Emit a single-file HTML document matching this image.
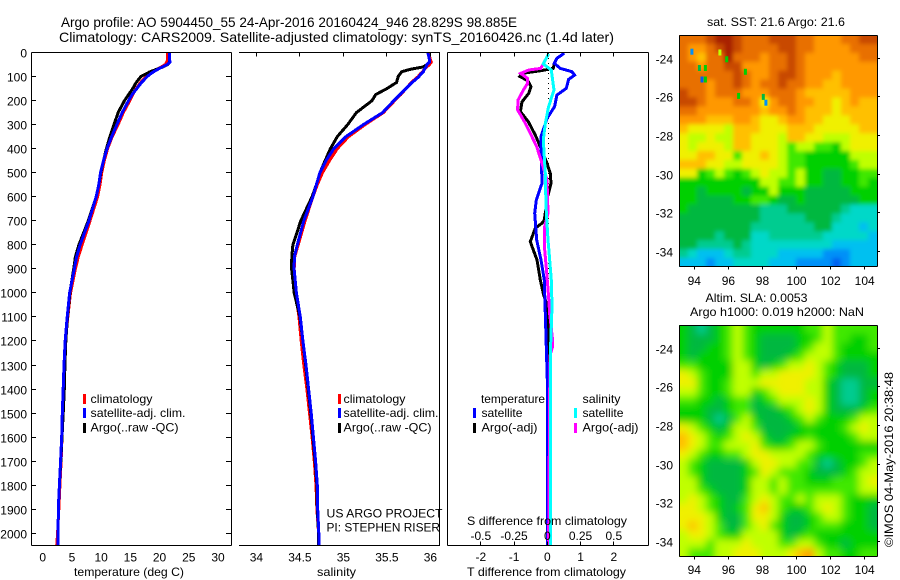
<!DOCTYPE html>
<html lang="en">
<head>
<meta charset="utf-8">
<title>Argo profile 5904450_55</title>
<style>
html,body{margin:0;padding:0;background:#fff;}
svg{display:block;}
text{font-family:"Liberation Sans",sans-serif;fill:#000;font-size:12px;}
.t{font-size:14px;}
</style>
</head>
<body>
<svg id="chart" xmlns="http://www.w3.org/2000/svg" width="900" height="580" viewBox="0 0 900 580">
<defs>
<filter id="blurA" x="-10%" y="-10%" width="120%" height="120%"><feGaussianBlur stdDeviation="4"/></filter>
<filter id="blurB" x="-10%" y="-10%" width="120%" height="120%"><feGaussianBlur stdDeviation="2"/></filter>
<clipPath id="clipSst"><rect x="679" y="35" width="198" height="232"/></clipPath>
<clipPath id="clipSla"><rect x="679" y="325" width="198" height="232"/></clipPath>
</defs>
<rect width="900" height="580" fill="#fff"/>
<text class="t" x="61" y="27" textLength="456" lengthAdjust="spacingAndGlyphs">Argo profile: AO 5904450_55 24-Apr-2016 20160424_946 28.829S 98.885E</text>
<text class="t" x="59" y="42" textLength="555" lengthAdjust="spacingAndGlyphs">Climatology: CARS2009. Satellite-adjusted climatology: synTS_20160426.nc (1.4d later)</text>

<g id="heatSst" clip-path="url(#clipSst)"></g>
<g id="heatSla" clip-path="url(#clipSla)"></g>
<g id="marks"></g>
<g id="axes"></g>

<text x="74" y="576" textLength="110" lengthAdjust="spacingAndGlyphs">temperature (deg C)</text>
<text x="317" y="576" textLength="39" lengthAdjust="spacingAndGlyphs">salinity</text>
<text x="467" y="576" textLength="159" lengthAdjust="spacingAndGlyphs">T difference from climatology</text>
<text x="467" y="525" textLength="160" lengthAdjust="spacingAndGlyphs">S difference from climatology</text>

<g>
<rect x="83" y="394" width="3" height="10" fill="#f00"/>
<rect x="83" y="408" width="3" height="10" fill="#00f"/>
<rect x="83" y="423" width="3" height="10" fill="#000"/>
<text x="90.5" y="403" textLength="62" lengthAdjust="spacingAndGlyphs">climatology</text>
<text x="90.5" y="417" textLength="95" lengthAdjust="spacingAndGlyphs">satellite-adj. clim.</text>
<text x="90.5" y="431.5" textLength="88" lengthAdjust="spacingAndGlyphs">Argo(..raw -QC)</text>
</g>
<g>
<rect x="338" y="394" width="3" height="10" fill="#f00"/>
<rect x="338" y="408" width="3" height="10" fill="#00f"/>
<rect x="338" y="423" width="3" height="10" fill="#000"/>
<text x="343.5" y="403" textLength="62" lengthAdjust="spacingAndGlyphs">climatology</text>
<text x="343.5" y="417" textLength="95" lengthAdjust="spacingAndGlyphs">satellite-adj. clim.</text>
<text x="343.5" y="431.5" textLength="88" lengthAdjust="spacingAndGlyphs">Argo(..raw -QC)</text>
</g>
<g>
<text x="481" y="403" textLength="64" lengthAdjust="spacingAndGlyphs">temperature</text>
<text x="582.5" y="403" textLength="38" lengthAdjust="spacingAndGlyphs">salinity</text>
<rect x="473" y="408" width="3" height="10" fill="#00f"/>
<rect x="473" y="423" width="3" height="10" fill="#000"/>
<rect x="574" y="408" width="3" height="10" fill="#0ff"/>
<rect x="574" y="423" width="3" height="10" fill="#f0f"/>
<text x="481.5" y="417" textLength="41" lengthAdjust="spacingAndGlyphs">satellite</text>
<text x="481.5" y="431.5" textLength="56" lengthAdjust="spacingAndGlyphs">Argo(-adj)</text>
<text x="582.5" y="417" textLength="41" lengthAdjust="spacingAndGlyphs">satellite</text>
<text x="582.5" y="431.5" textLength="56" lengthAdjust="spacingAndGlyphs">Argo(-adj)</text>
</g>

<text x="326.5" y="517.5" textLength="116" lengthAdjust="spacingAndGlyphs">US ARGO PROJECT</text>
<text x="326.5" y="531.5" textLength="113.5" lengthAdjust="spacingAndGlyphs">PI: STEPHEN RISER</text>

<text x="707" y="26" textLength="138" lengthAdjust="spacingAndGlyphs">sat. SST: 21.6 Argo: 21.6</text>
<text x="705.5" y="302" textLength="102" lengthAdjust="spacingAndGlyphs">Altim. SLA: 0.0053</text>
<text x="690" y="316" textLength="174" lengthAdjust="spacingAndGlyphs">Argo h1000: 0.019 h2000: NaN</text>
<text transform="translate(893,547) rotate(-90)" textLength="175" lengthAdjust="spacingAndGlyphs">©IMOS 04-May-2016 20:38:48</text>
</svg>

<script>
// ---- profile data: temperature and salinity on a shared depth grid
const profileDepths = [0,30,40,50,60,70,80,90,100,125,150,175,200,250,300,350,400,450,500,550,600,700,800,850,900,1000,1100,1200,1300,1400,1500,1600,1700,1800,1900,2000,2050];
const tempClim = [21.4,21.4,21.2,21.0,20.3,19.6,19.0,18.4,17.7,16.75,16.0,15.4,14.9,13.8,12.9,11.9,11.1,10.55,10.1,9.8,9.4,8.1,6.75,6.1,5.6,4.75,4.3,3.9,3.75,3.55,3.45,3.3,3.15,2.95,2.75,2.55,2.4];
const tempSat = [21.7,21.7,21.8,21.3,20.5,19.7,19.0,18.4,17.9,16.9,16.1,15.3,14.7,13.6,12.7,11.8,11.0,10.4,9.9,9.6,9.15,7.9,6.4,5.8,5.4,4.6,4.2,3.85,3.65,3.5,3.35,3.25,3.07,2.85,2.67,2.65,2.6];
const tempArgo = [21.7,21.7,21.7,21.4,20.6,19.5,18.4,17.6,16.8,16.0,15.4,14.7,14.0,12.9,12.2,11.5,10.9,10.4,9.95,9.6,9.15,7.8,6.2,5.6,5.3,4.65,4.25,3.95,3.8,3.7,3.5,3.3,3.1,2.85,2.67,2.65,2.6];
const salClim = [35.98,36.0,36.01,35.99,35.96,35.93,35.91,35.88,35.86,35.78,35.72,35.66,35.59,35.46,35.25,35.06,34.93,34.84,34.76,34.70,34.65,34.56,34.48,34.44,34.435,34.45,34.49,34.515,34.545,34.58,34.61,34.64,34.665,34.685,34.695,34.715,34.715];
const salSat = [35.97,35.99,35.99,35.96,35.95,35.93,35.92,35.89,35.87,35.79,35.72,35.65,35.58,35.45,35.23,35.03,34.89,34.80,34.73,34.69,34.65,34.545,34.47,34.437,34.433,34.46,34.505,34.535,34.57,34.60,34.63,34.655,34.68,34.70,34.705,34.717,34.717];
const salArgo = [35.97,35.99,35.99,35.96,35.92,35.77,35.67,35.65,35.63,35.61,35.50,35.37,35.33,35.15,35.05,34.93,34.85,34.79,34.73,34.69,34.64,34.51,34.42,34.407,34.405,34.435,34.50,34.535,34.565,34.595,34.625,34.65,34.675,34.695,34.70,34.715,34.715];

// ---- difference-from-climatology profiles
const dtSatDepths = [3,24,45,66,80,94,112,149,177,225,274,350,433,544,614,669,780,863,946,1085,1224,1362,2050];
const dtSatValues = [0.51,0.29,0.21,0.39,0.74,0.82,0.64,0.57,0.29,0.22,-0.01,-0.19,-0.18,-0.16,-0.33,-0.38,-0.32,-0.19,-0.09,-0.06,-0.03,0,0];
const dtArgoDepths = [3,24,45,66,76,87,100,117,142,170,205,246,288,343,392,461,503,544,600,697,710,731,787,863,946,1008,1057,1154,2050];
const dtArgoValues = [0.51,0.29,0.21,0.18,-0.21,-0.76,-0.83,-0.59,-0.49,-0.56,-0.76,-0.81,-0.57,-0.36,-0.21,-0.01,0.09,0.11,0.01,-0.09,-0.16,-0.36,-0.51,-0.31,-0.21,-0.11,0.01,0.04,0.04];
const dsSatDepths = [6,31,48,73,114,156,225,295,364,503,641,780,808,946,1057,1224,2050];
const dsSatValues = [0.01,-0.015,-0.03,0.03,0.04,0.05,0.01,-0.015,-0.03,-0.015,-0.01,0.005,0.01,0.03,0.035,0.025,0.025];
const dsArgoDepths = [6,31,48,66,73,87,107,128,156,198,239,281,336,392,461,530,669,725,808,891,1016,1085,1196,1224,1260,2050];
const dsArgoValues = [0.01,-0.015,-0.03,-0.05,-0.14,-0.2,-0.15,-0.148,-0.18,-0.22,-0.223,-0.178,-0.128,-0.08,-0.04,-0.002,0.005,-0.02,-0.022,-0.008,0.01,0.017,0.04,0.04,0.02,0.01];

// ---- tick labels
const depthTicks = [0,100,200,300,400,500,600,700,800,900,1000,1100,1200,1300,1400,1500,1600,1700,1800,1900,2000];
const tempTicks = [0,5,10,15,20,25,30];
const salTicks = [34,34.5,35,35.5,36];
const dtTicks = [-2,-1,0,1,2];
const dsTicks = [-0.5,-0.25,0,0.25,0.5];
const lonTicks = [94,96,98,100,102,104];
const latTicks = [-24,-26,-28,-30,-32,-34];

// ---- satellite SST map, colour-level per cell (north to south, west to east)
const sstLevels = [
[12,12,12,13,14,14,13,12,12,12,13,13,13,12,12,11,11,11,12,12,13,13],
[12,11,11,12,13,14,13,12,12,12,12,13,13,12,12,11,11,11,11,12,12,12],
[12,11,10,12,12,14,12,12,12,11,12,12,13,12,11,11,11,11,11,11,12,12],
[12,12,11,12,12,13,13,11,11,11,12,12,13,12,11,11,11,11,11,11,11,11],
[12,12,12,12,12,12,13,12,11,11,12,13,13,12,11,11,11,10,11,11,11,11],
[12,12,12,11,12,12,13,12,11,12,12,13,12,12,11,11,10,10,11,11,11,11],
[13,12,12,11,12,12,12,11,11,11,12,12,12,11,10,10,10,10,10,11,11,11],
[13,13,12,11,11,11,12,12,11,9,11,12,12,11,11,10,10,9,10,11,10,10],
[12,12,11,11,11,11,11,11,11,10,11,11,12,11,10,10,10,9,10,10,10,10],
[11,11,11,10,10,10,11,11,10,9,9,10,11,11,10,10,9,9,9,10,10,10],
[10,9,9,9,9,8,10,10,10,9,9,9,10,10,10,9,9,9,9,9,10,10],
[9,8,8,9,8,8,10,10,9,9,9,8,10,10,9,9,8,8,8,9,9,9],
[9,8,9,9,9,8,10,10,9,9,9,8,7,8,8,7,7,6,8,9,9,9],
[9,9,10,10,9,9,7,9,9,10,9,8,7,7,6,6,6,6,6,8,8,8],
[10,10,10,9,9,8,8,9,9,9,9,8,7,7,6,6,6,6,6,7,8,8],
[9,9,6,7,8,7,6,7,8,9,8,8,7,8,6,6,5,5,6,6,7,7],
[6,6,6,6,6,6,6,6,6,8,8,7,7,8,6,6,5,5,6,6,7,6],
[6,6,5,6,6,6,6,5,6,6,8,6,6,6,5,5,5,5,5,6,6,6],
[6,6,5,5,5,5,6,6,7,7,6,5,5,6,5,5,5,5,5,5,6,6],
[6,5,5,5,5,5,5,5,5,4,4,4,5,5,5,5,5,5,4,3,3,3],
[5,5,5,5,5,5,5,5,5,4,4,4,4,4,5,5,5,4,3,3,3,3],
[5,5,5,5,5,5,5,5,4,4,4,4,4,4,4,5,5,3,3,3,2,3],
[5,5,5,5,4,5,5,5,3,3,4,4,4,4,4,4,3,3,3,3,3,2],
[5,5,4,4,4,4,5,4,3,3,3,3,3,3,3,3,3,2,2,2,2,2],
[4,3,2,2,2,3,4,4,3,3,3,2,2,2,2,2,1,1,1,2,2,2],
[2,2,2,1,2,2,3,3,3,3,2,2,2,1,1,1,1,0,1,2,2,2]
];
// isolated anomalous pixels in the SST map
const speckleLons = [93.86,94.45,94.3,94.65,94.65,95.5,95.9,97,96.6,98.05,98.2];
const speckleLats = [-23.66,-25.1,-24.5,-24.5,-25.1,-23.7,-24.05,-24.7,-25.95,-26,-26.3];
const speckleLevels = [1,0,5,6,6,8,6,6,6,5,1];

// ---- altimetric SLA map
const slaLevels = [
[6,5,4,5,6,7,8,7,6,6,6,6,6,6,7,7,8,7,7,7,7,7],
[6,5,5,5,6,7,8,7,6,5,5,5,5,6,6,7,8,7,7,6,6,7],
[6,5,5,6,6,7,8,7,6,5,5,5,5,6,7,8,8,7,6,6,6,7],
[6,5,6,6,6,7,8,7,6,5,5,5,6,7,8,8,8,7,6,6,6,6],
[7,7,6,6,6,6,8,8,6,5,6,7,8,8,9,8,7,6,5,5,5,6],
[9,8,7,6,6,6,8,8,7,8,8,9,9,9,9,8,7,6,5,5,5,6],
[9,9,7,6,6,7,8,8,8,9,9,9,9,9,8,8,6,5,4,4,5,5],
[8,8,7,6,6,7,8,8,6,7,8,9,9,9,8,8,6,5,4,4,5,6],
[7,7,6,6,5,6,7,7,5,6,7,8,8,8,9,8,6,5,4,4,5,6],
[6,6,6,5,5,6,7,7,5,5,5,6,7,8,9,8,6,5,5,5,6,7],
[6,6,6,5,4,5,7,8,6,5,5,5,6,7,8,7,6,6,6,7,8,8],
[9,8,7,6,5,6,8,8,7,5,5,5,5,6,6,6,6,6,7,8,9,8],
[10,9,8,7,6,7,8,9,8,6,5,5,6,6,7,6,6,6,6,7,8,8],
[10,9,8,7,7,8,8,8,9,7,6,6,7,8,8,7,6,6,6,6,6,6],
[9,8,7,6,6,7,7,8,9,9,8,8,8,8,7,6,6,6,6,6,7,7],
[8,7,6,5,5,5,5,6,8,9,9,8,8,7,7,5,4,5,6,6,7,8],
[8,7,6,5,5,5,5,6,7,9,8,7,7,7,6,5,5,5,6,7,8,8],
[8,8,6,5,5,5,5,6,8,8,7,8,7,7,6,6,6,7,7,7,8,9],
[8,8,7,6,5,5,5,6,8,8,7,8,7,7,7,7,7,7,7,7,8,8],
[8,9,8,7,6,5,5,7,8,9,8,7,7,8,7,8,8,8,7,6,6,6],
[9,9,8,7,6,5,6,7,9,10,8,7,6,6,7,8,9,8,7,6,6,5],
[9,9,9,8,6,5,5,7,9,9,8,6,5,5,6,7,8,8,7,6,6,5],
[9,10,9,8,7,5,5,7,8,9,7,6,5,5,6,7,7,7,6,6,6,5],
[8,9,9,8,7,6,6,8,8,8,8,6,5,6,7,6,6,6,6,6,6,6],
[8,8,8,7,8,8,8,9,8,8,8,7,7,8,8,7,6,6,5,6,6,6],
[8,7,7,7,8,8,9,9,9,8,8,8,9,10,11,8,7,7,6,6,7,7]
];

// ---- scales and helpers
const heatColors = ['#0060f0','#0090f8','#00c0f0','#00d8c8','#00cc90','#00b840','#00d000','#40e800','#c0ff00','#f0f000','#ffc000','#ff9800','#e87000','#c84800','#a82000'];
const NS = 'http://www.w3.org/2000/svg';
function linear(d0, d1, r0, r1) { return function (v) { return r0 + (v - d0) * (r1 - r0) / (d1 - d0); }; }
const yDepth = linear(0, 2000, 52.5, 533.3);
const xTemp = linear(0, 30, 42.7, 218);
const xSal = linear(34, 36, 256.4, 430.4);
const xDt = linear(-2, 2, 480.8, 613.8);
const xDs = linear(-0.5, 0.5, 480.8, 613.8);
const xLon = linear(94, 104, 694.3, 864.7);
const yLatSst = linear(-24, -34, 58.3, 251.3);
const yLatSla = linear(-24, -34, 348.3, 541.3);
const marks = document.getElementById('marks');
const axes = document.getElementById('axes');
function snap(v) { return Math.round(v - 0.5) + 0.5; }
function seg(x1, y1, x2, y2, name) {
  const el = document.createElementNS(NS, 'line');
  el.setAttribute('x1', x1); el.setAttribute('y1', y1);
  el.setAttribute('x2', x2); el.setAttribute('y2', y2);
  el.setAttribute('stroke', '#000');
  el.setAttribute('stroke-width', 1);
  el.setAttribute('shape-rendering', 'crispEdges');
  
  
  axes.appendChild(el);
  return el;
}
function label(x, y, str, anchor, name) {
  const el = document.createElementNS(NS, 'text');
  el.setAttribute('x', x); el.setAttribute('y', y);
  el.setAttribute('text-anchor', anchor);
  el.textContent = str;
  
  
  axes.appendChild(el);
}
function curve(depths, values, xs, color, name) {
  const el = document.createElementNS(NS, 'polyline');
  el.setAttribute('points', depths.map(function (d, i) { return xs(values[i]).toFixed(1) + ',' + yDepth(d).toFixed(1); }).join(' '));
  el.setAttribute('fill', 'none');
  el.setAttribute('stroke', color);
  el.setAttribute('stroke-width', 3);
  el.setAttribute('shape-rendering', 'crispEdges');
  
  
  marks.appendChild(el);
}

// ---- profile curves
curve(profileDepths, tempClim, xTemp, '#f00', 'temperature-climatology-line');
curve(profileDepths, tempArgo, xTemp, '#000', 'temperature-argo-line');
curve(profileDepths, tempSat, xTemp, '#00f', 'temperature-satellite-line');
curve(profileDepths, salClim, xSal, '#f00', 'salinity-climatology-line');
curve(profileDepths, salArgo, xSal, '#000', 'salinity-argo-line');
curve(profileDepths, salSat, xSal, '#00f', 'salinity-satellite-line');
curve(dtArgoDepths, dtArgoValues, xDt, '#000', 't-difference-argo-line');
curve(dtSatDepths, dtSatValues, xDt, '#00f', 't-difference-satellite-line');
curve(dsArgoDepths, dsArgoValues, xDs, '#f0f', 's-difference-argo-line');
curve(dsSatDepths, dsSatValues, xDs, '#0ff', 's-difference-satellite-line');

// ---- zero reference line in the difference panel
const zeroLine = seg(548.5, 53, 548.5, 546, 'zero-reference-line');
zeroLine.setAttribute('stroke-dasharray', '1 4');
marks.insertBefore(zeroLine, marks.firstChild);

// ---- panel frames
const TOP = 52.5, BOT = 545.5;
seg(31.5, TOP, 231.5, TOP, 'temperature-panel-top');
seg(31.5, BOT, 231.5, BOT, 'temperature-panel-bottom');
seg(31.5, TOP, 31.5, BOT, 'temperature-panel-left');
seg(231.5, TOP, 231.5, BOT, 'temperature-panel-right');
seg(239, TOP, 440, TOP, 'salinity-panel-top');
seg(239, BOT, 440, BOT, 'salinity-panel-bottom');
seg(439.5, TOP, 439.5, BOT, 'salinity-panel-right');
seg(447.5, TOP, 648.5, TOP, 'difference-panel-top');
seg(447.5, BOT, 648.5, BOT, 'difference-panel-bottom');
seg(447.5, TOP, 447.5, BOT, 'difference-panel-left');
seg(648.5, TOP, 648.5, BOT, 'difference-panel-right');

// ---- depth axis
depthTicks.forEach(function (d) {
  const y = snap(yDepth(d));
  seg(32, y, 36, y, 'depth-tick-left');
  seg(226, y, 231, y, 'depth-tick-right');
  label(27, y + 5, String(d), 'end', 'depth-tick-label');
});
// ---- x axes
tempTicks.forEach(function (v) {
  label(xTemp(v), 561.5, String(v), 'middle', 'temperature-tick-label');
});
salTicks.forEach(function (v) {
  const x = snap(xSal(v));
  seg(x, TOP, x, TOP + 4, 'salinity-tick');
  label(xSal(v), 561.5, String(v), 'middle', 'salinity-tick-label');
});
dtTicks.forEach(function (v) {
  const x = snap(xDt(v));
  seg(x, TOP, x, TOP + 4, 't-difference-tick-top');
  seg(x, BOT - 4, x, BOT, 't-difference-tick-bottom');
  label(xDt(v), 561, String(v), 'middle', 't-difference-tick-label');
});
dsTicks.forEach(function (v) {
  label(xDs(v), 540, String(v), 'middle', 's-difference-tick-label');
});

// ---- heat maps
function heat(levels, groupId, filterId, left, top, width, height, cellName) {
  const outer = document.getElementById(groupId);
  const g = document.createElementNS(NS, 'g');
  g.setAttribute('filter', 'url(#' + filterId + ')');
  outer.appendChild(g);
  const rows = levels.length, cols = levels[0].length;
  const cw = width / cols, ch = height / rows;
  levels.forEach(function (row, r) {
    row.forEach(function (lv, c) {
      const el = document.createElementNS(NS, 'rect');
      const pad = 14;
      const x0 = left + c * cw - (c === 0 ? pad : 0);
      const y0 = top + r * ch - (r === 0 ? pad : 0);
      const x1 = left + (c + 1) * cw + (c === cols - 1 ? pad : 0.5);
      const y1 = top + (r + 1) * ch + (r === rows - 1 ? pad : 0.5);
      el.setAttribute('x', x0.toFixed(2));
      el.setAttribute('y', y0.toFixed(2));
      el.setAttribute('width', (x1 - x0).toFixed(2));
      el.setAttribute('height', (y1 - y0).toFixed(2));
      el.setAttribute('fill', heatColors[lv]);
      
      
      g.appendChild(el);
    });
  });
  return outer;
}
const sstGroup = heat(sstLevels, 'heatSst', 'blurB', 679, 35, 198, 232, 'sst-cell');
heat(slaLevels, 'heatSla', 'blurA', 679, 325, 198, 232, 'sla-cell');
speckleLons.forEach(function (lon, i) {
  const el = document.createElementNS(NS, 'rect');
  el.setAttribute('x', (xLon(lon) - 1.5).toFixed(1));
  el.setAttribute('y', (yLatSst(speckleLats[i]) - 3).toFixed(1));
  el.setAttribute('width', 3);
  el.setAttribute('height', 6);
  el.setAttribute('fill', heatColors[speckleLevels[i]]);
  
  
  sstGroup.appendChild(el);
});

// ---- map frames and ticks
function mapFrame(yLat, top, bottom, lonBase, prefix) {
  seg(679.5, top, 877.5, top, prefix + '-frame-top');
  seg(679.5, bottom, 877.5, bottom, prefix + '-frame-bottom');
  seg(679.5, top, 679.5, bottom, prefix + '-frame-left');
  seg(877.5, top, 877.5, bottom, prefix + '-frame-right');
  lonTicks.forEach(function (lon) {
    const x = snap(xLon(lon));
    seg(x, bottom, x, bottom + 3, prefix + '-lon-tick');
    label(xLon(lon), lonBase, String(lon), 'middle', prefix + '-lon-label');
  });
  latTicks.forEach(function (lat) {
    const y = snap(yLat(lat));
    seg(877, y, 880, y, prefix + '-lat-tick');
    label(673, y + 5, String(lat), 'end', prefix + '-lat-label');
  });
}
mapFrame(yLatSst, 35.5, 266.5, 285, 'sst-map');
mapFrame(yLatSla, 325.5, 556.5, 574, 'sla-map');
</script>
</body>
</html>
